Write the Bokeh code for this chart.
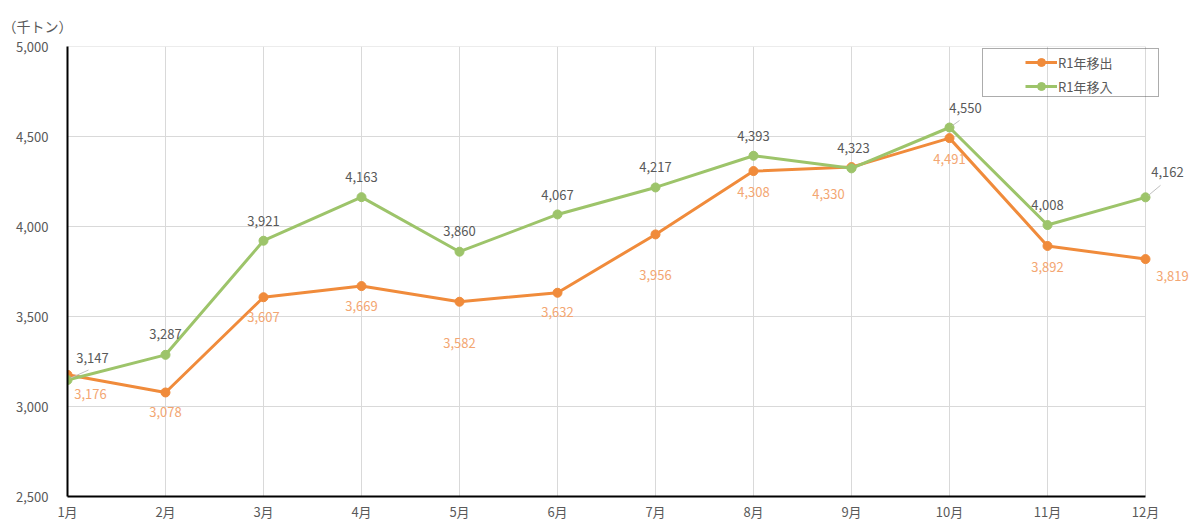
from bokeh.plotting import figure
from bokeh.models import (Range1d, FixedTicker, NumeralTickFormatter, Legend, LegendItem,
                          ColumnDataSource, LabelSet, Arrow)
from bokeh.core.properties import value
from bokeh.embed import file_html
from bokeh.resources import INLINE

# ---- data ----
months = ["1月", "2月", "3月", "4月", "5月", "6月", "7月", "8月", "9月", "10月", "11月", "12月"]
outflow = [3176, 3078, 3607, 3669, 3582, 3632, 3956, 4308, 4330, 4491, 3892, 3819]
inflow = [3147, 3287, 3921, 4163, 3860, 4067, 4217, 4393, 4323, 4550, 4008, 4162]
y_ticks = [2500, 3000, 3500, 4000, 4500, 5000]
series_names = ["R1年移出", "R1年移入"]
unit_label = "（千トン）"

# ---- styles / label placement (pixels, dy: positive = below) ----
FONT = "Noto Sans CJK JP"
ORANGE = "#F08B3B"
GREEN = "#9DC46A"
ORANGE_TXT = "#F3A672"
GRAY_TXT = "#595959"
GRID = "#d9d9d9"
in_dx = [25, 0, 0, 0, 0, 0, 0, 0, 2, 16, 0, 22]
in_dy = [-22, -21, -20, -20, -21, -19, -20, -20, -20, -20, -20, -25]
out_dx = [23, 0, 0, 0, 0, 0, 0, 0, -23, 0, 0, 27]
out_dy = [19, 20, 20, 20, 41, 19, 41, 21, 27, 21, 21, 17]
leader_idx = [0, 9, 11]
leader_px = [(21, -10), (10, -7), (15, -12)]

FW, FH = 1078, 450      # pixel width from first to last month, plot height
EXTRA = 45              # room right of the last month for labels / legend
n = len(months)
x = list(range(n))
xpp = (n - 1) / FW
ypp = (y_ticks[-1] - y_ticks[0]) / FH

p = figure(frame_width=FW + EXTRA, frame_height=FH,
           x_range=Range1d(0, (n - 1) + EXTRA * xpp), y_range=Range1d(y_ticks[0], y_ticks[-1]),
           output_backend="svg", toolbar_location=None,
           min_border_left=67, min_border_top=46, min_border_right=2, min_border_bottom=22,
           background_fill_color="white", border_fill_color="white")
p.outline_line_color = None

# title (unit)
p.title.text = unit_label
p.title.align = "left"
p.title.offset = -65
p.title.standoff = 22
p.title.text_font = FONT
p.title.text_font_size = "14px"
p.title.text_font_style = "normal"
p.title.text_color = GRAY_TXT

# axes
p.xaxis.ticker = FixedTicker(ticks=x)
p.xaxis.major_label_overrides = {i: m for i, m in enumerate(months)}
p.xaxis.bounds = (0, n - 1)
p.yaxis.ticker = FixedTicker(ticks=y_ticks)
p.yaxis.formatter = NumeralTickFormatter(format="0,0")
for ax in (p.xaxis, p.yaxis):
    ax.axis_line_color = "black"
    ax.axis_line_width = 2
    ax.major_tick_line_color = None
    ax.minor_tick_line_color = None
    ax.major_tick_out = 0
    ax.major_tick_in = 0
    ax.major_label_text_font = FONT
    ax.major_label_text_font_size = "13px"
    ax.major_label_text_color = GRAY_TXT
p.xaxis.major_label_standoff = 5
p.yaxis.major_label_standoff = 19

# grid: vertical lines at months, horizontal lines only across the months
p.xgrid.ticker = FixedTicker(ticks=x)
p.xgrid.grid_line_color = GRID
p.ygrid.grid_line_color = None
p.segment(x0=[x[0]] * len(y_ticks), y0=y_ticks, x1=[x[-1]] * len(y_ticks), y1=y_ticks,
          line_color=GRID, line_width=1)

# leader lines
for i, (dx, dy) in zip(leader_idx, leader_px):
    p.add_layout(Arrow(end=None, x_start=x[i] + 3 * xpp, y_start=inflow[i] + 2 * ypp,
                       x_end=x[i] + dx * xpp, y_end=inflow[i] - dy * ypp,
                       line_color="#bfbfbf", line_width=1))

# series
l_out = p.line(x, outflow, line_color=ORANGE, line_width=3)
s_out = p.scatter(x, outflow, size=9, fill_color=ORANGE, line_color=ORANGE)
l_in = p.line(x, inflow, line_color=GREEN, line_width=3)
s_in = p.scatter(x, inflow, size=9, fill_color=GREEN, line_color=GREEN)
dummy = p.line(x, inflow, line_alpha=0)

# data labels
src_in = ColumnDataSource(dict(x=x, y=inflow, t=[f"{v:,}" for v in inflow],
                               dx=in_dx, dy=[-d for d in in_dy]))
src_out = ColumnDataSource(dict(x=x, y=outflow, t=[f"{v:,}" for v in outflow],
                                dx=out_dx, dy=[-d for d in out_dy]))
for src, col in ((src_in, GRAY_TXT), (src_out, ORANGE_TXT)):
    p.add_layout(LabelSet(x="x", y="y", text="t", x_offset="dx", y_offset="dy", source=src,
                          text_font=value(FONT), text_font_size="13px", text_color=col,
                          text_align="center", text_baseline="middle"))

# legend: frame box + items
box_legend = Legend(items=[LegendItem(label=" ", renderers=[dummy])],
                    location=(915, 399), border_line_color="#595959", border_line_width=1.2,
                    background_fill_alpha=0, padding=0, spacing=0, margin=0,
                    glyph_width=1, glyph_height=47, label_height=47, label_width=174,
                    label_standoff=0, label_text_font_size="1px")
p.add_layout(box_legend)
legend = Legend(items=[LegendItem(label=series_names[0], renderers=[l_out, s_out]),
                       LegendItem(label=series_names[1], renderers=[l_in, s_in])],
                location=(958, 400), border_line_color=None, background_fill_alpha=0,
                padding=0, spacing=4, margin=0, glyph_width=32, glyph_height=20,
                label_height=20, label_standoff=1,
                label_text_font=FONT, label_text_font_size="13px", label_text_color=GRAY_TXT)
p.add_layout(legend)

open("out.html", "w").write(file_html(p, INLINE))
